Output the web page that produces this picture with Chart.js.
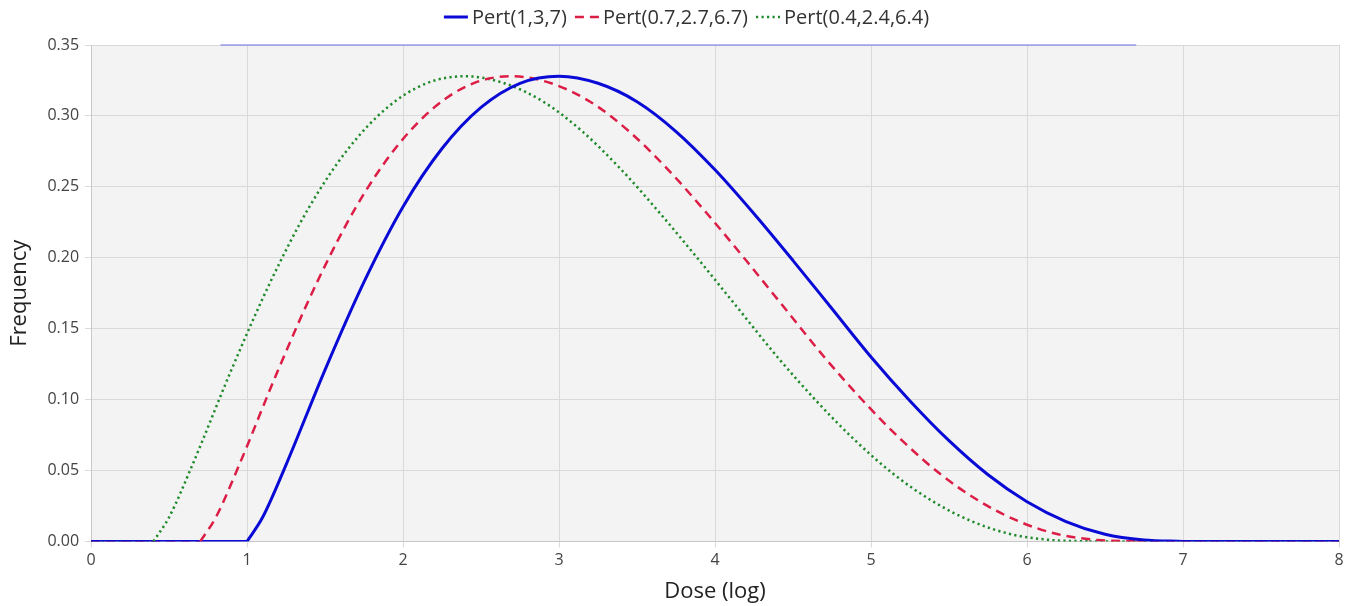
<!DOCTYPE html>
<html>
<head>
<meta charset="utf-8">
<script src="https://cdn.jsdelivr.net/npm/chart.js@4"></script>
<style>
  html, body { margin: 0; padding: 0; background: #ffffff; }
  #wrap { width: 1357px; height: 606px; }
</style>
</head>
<body>
<div id="wrap"><canvas id="myChart"></canvas></div>
<script>
// values
const doseBlue = [1, 1.1, 1.25, 1.5, 1.75, 2, 2.25, 2.5, 2.75, 3, 3.25, 3.5, 3.75, 4, 4.25, 4.5, 4.75, 5, 5.25, 5.5, 5.75, 6, 6.25, 6.5, 6.75, 7];
const freqBlue = [0, 0.017, 0.054, 0.121, 0.183, 0.236, 0.277, 0.306, 0.323, 0.328, 0.323, 0.310, 0.289, 0.262, 0.231, 0.198, 0.164, 0.130, 0.099, 0.071, 0.047, 0.028, 0.014, 0.005, 0.001, 0];

const doseRed = [0.7, 0.8, 0.95, 1.2, 1.45, 1.7, 1.95, 2.2, 2.45, 2.7, 2.95, 3.2, 3.45, 3.7, 3.95, 4.2, 4.45, 4.7, 4.95, 5.2, 5.45, 5.7, 5.95, 6.2, 6.45, 6.7];
const freqRed = [0, 0.017, 0.054, 0.121, 0.183, 0.236, 0.277, 0.306, 0.323, 0.328, 0.323, 0.310, 0.289, 0.262, 0.231, 0.198, 0.164, 0.130, 0.099, 0.071, 0.047, 0.028, 0.014, 0.005, 0.001, 0];

const doseGreen = [0.4, 0.5, 0.65, 0.9, 1.15, 1.4, 1.65, 1.9, 2.15, 2.4, 2.65, 2.9, 3.15, 3.4, 3.65, 3.9, 4.15, 4.4, 4.65, 4.9, 5.15, 5.4, 5.65, 5.9, 6.15, 6.4];
const freqGreen = [0, 0.017, 0.054, 0.121, 0.183, 0.236, 0.277, 0.306, 0.323, 0.328, 0.323, 0.310, 0.289, 0.262, 0.231, 0.198, 0.164, 0.130, 0.099, 0.071, 0.047, 0.028, 0.014, 0.005, 0.001, 0];

// zero stretches before and after each curve (null = gap)
const baseDoseBlue = [0, 1, null, 7, 8];
const baseDoseRed = [0, 0.7, null, 6.7, 8];
const baseDoseGreen = [0, 0.4, null, 6.4, 8];
const baseFreq = [0, 0, null, 0, 0];

// faint line along the top edge
const doseTop = [0.83, 6.7];
const freqTop = [0.35, 0.35];

const seriesNames = ["Pert(1,3,7)", "Pert(0.7,2.7,6.7)", "Pert(0.4,2.4,6.4)"];
const seriesColors = ["#0a0ad6", "#dc1e46", "#1f8a2a"];
const seriesDash = [[], [9, 6], [2.2, 3.3]];
const seriesWidth = [3, 2.5, 2.5];

function toPoints(xs, ys) {
  return xs.map((x, i) => ({ x: x === null ? NaN : x, y: ys[i] }));
}

function lineSet(label, xs, ys, i, smooth) {
  return {
    label: label,
    data: toPoints(xs, ys),
    borderColor: seriesColors[i],
    backgroundColor: seriesColors[i],
    borderWidth: seriesWidth[i],
    borderDash: seriesDash[i],
    pointRadius: 0,
    spanGaps: false,
    cubicInterpolationMode: smooth ? "monotone" : "default",
    tension: 0,
  };
}

const plotBackground = {
  id: "plotBackground",
  beforeDraw(chart) {
    const { ctx, chartArea } = chart;
    ctx.save();
    ctx.fillStyle = "#f3f3f3";
    ctx.fillRect(chartArea.left, chartArea.top, chartArea.right - chartArea.left, chartArea.bottom - chartArea.top);
    ctx.restore();
  },
};

// legend with line samples (dash styles kept)
const lineLegend = {
  id: "lineLegend",
  afterDraw(chart) {
    const ctx = chart.ctx;
    ctx.save();
    ctx.font = "20px 'Open Sans', 'Noto Sans', sans-serif";
    ctx.textBaseline = "middle";
    const sample = 24, gap = 4, itemGap = 8;
    const widths = seriesNames.map((t) => ctx.measureText(t).width);
    const total = widths.reduce((a, w) => a + sample + gap + w, 0) + itemGap * (seriesNames.length - 1);
    let x = chart.width / 2 + 8 - total / 2;
    const y = 17;
    seriesNames.forEach((name, i) => {
      ctx.beginPath();
      ctx.strokeStyle = seriesColors[i];
      ctx.lineWidth = seriesWidth[i];
      ctx.setLineDash(seriesDash[i]);
      ctx.moveTo(x, y);
      ctx.lineTo(x + sample, y);
      ctx.stroke();
      ctx.setLineDash([]);
      ctx.fillStyle = "#333";
      ctx.fillText(name, x + sample + gap, y + 1);
      x += sample + gap + widths[i] + itemGap;
    });
    ctx.restore();
  },
};

Chart.defaults.font.family = "'Open Sans', 'Noto Sans', sans-serif";

const ctx = document.getElementById("myChart").getContext("2d");
new Chart(ctx, {
  type: "line",
  data: {
    datasets: [
      lineSet(seriesNames[0], doseBlue, freqBlue, 0, true),
      lineSet(seriesNames[1], doseRed, freqRed, 1, true),
      lineSet(seriesNames[2], doseGreen, freqGreen, 2, true),
      lineSet("base0", baseDoseBlue, baseFreq, 0, false),
      lineSet("base1", baseDoseRed, baseFreq, 1, false),
      lineSet("base2", baseDoseGreen, baseFreq, 2, false),
      {
        label: "top",
        data: toPoints(doseTop, freqTop),
        borderColor: "rgba(120,120,235,0.55)",
        borderWidth: 2,
        pointRadius: 0,
        clip: 4,
      },
    ],
  },
  options: {
    responsive: true,
    maintainAspectRatio: false,
    animation: false,
    layout: { padding: { left: 3, right: 18, top: 45, bottom: 1 } },
    scales: {
      x: {
        type: "linear",
        min: 0,
        max: 8,
        ticks: { stepSize: 1, color: "#444", font: { size: 16 }, padding: 3 },
        grid: { color: "#d9d9d9", tickLength: 6 },
        border: { color: "#c8c8c8" },
        title: { display: true, text: "Dose (log)", color: "#222", font: { size: 22 }, padding: { top: 6, bottom: 0 } },
      },
      y: {
        min: 0,
        max: 0.35,
        ticks: {
          stepSize: 0.05,
          color: "#444",
          font: { size: 16 },
          padding: 6,
          callback: (v) => v.toFixed(2),
        },
        grid: { color: "#d9d9d9", tickLength: 6 },
        border: { color: "#c8c8c8" },
        title: { display: true, text: "Frequency", color: "#222", font: { size: 22 }, padding: { bottom: 8 } },
      },
    },
    plugins: {
      legend: { display: false },
      tooltip: { enabled: false },
    },
  },
  plugins: [plotBackground, lineLegend],
});
</script>
</body>
</html>
